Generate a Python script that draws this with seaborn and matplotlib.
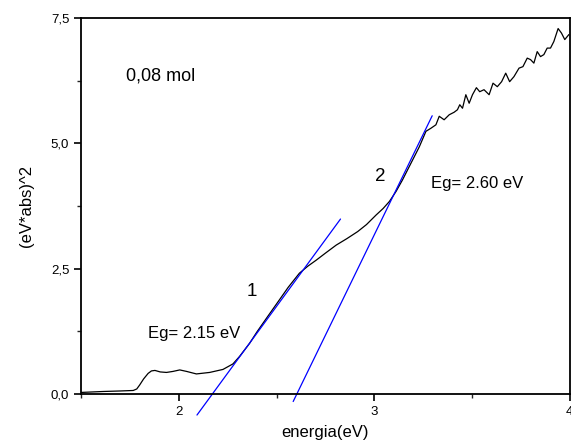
import numpy as np
import pandas as pd
import matplotlib
matplotlib.use("Agg")
import matplotlib.pyplot as plt
import seaborn as sns
from matplotlib.ticker import MultipleLocator, FuncFormatter

# Absorption curve (energy in eV, (eV*abs)^2)
energy = [1.495, 1.614, 1.70, 1.767, 1.785, 1.80, 1.82, 1.843, 1.86, 1.878, 1.905, 1.937,
          1.97, 2.005, 2.04, 2.09, 2.158, 2.226, 2.277, 2.311, 2.362, 2.40, 2.45,
          2.515, 2.56, 2.617, 2.66, 2.703, 2.75, 2.805, 2.86, 2.915, 2.96, 3.009,
          3.045, 3.077, 3.111, 3.144, 3.17, 3.20, 3.23, 3.264, 3.289, 3.315,
          3.332, 3.357, 3.383, 3.408, 3.425, 3.437, 3.451, 3.468, 3.485, 3.502,
          3.522, 3.539, 3.561, 3.587, 3.607, 3.629, 3.651, 3.672, 3.692, 3.714,
          3.74, 3.76, 3.782, 3.799, 3.816, 3.833, 3.85, 3.867, 3.884, 3.901,
          3.918, 3.94, 3.957, 3.974, 3.995]
absorb = [0.03, 0.05, 0.06, 0.07, 0.10, 0.18, 0.30, 0.41, 0.46, 0.47, 0.44, 0.43,
          0.45, 0.48, 0.45, 0.40, 0.43, 0.49, 0.60, 0.75, 1.01, 1.24, 1.52,
          1.88, 2.13, 2.41, 2.55, 2.67, 2.81, 2.97, 3.10, 3.24, 3.38, 3.57,
          3.70, 3.84, 4.04, 4.27, 4.47, 4.70, 4.93, 5.24, 5.30, 5.37,
          5.54, 5.47, 5.57, 5.62, 5.67, 5.77, 5.70, 5.97, 5.80, 5.97,
          6.11, 6.03, 6.07, 5.97, 6.20, 6.13, 6.23, 6.40, 6.23, 6.33,
          6.50, 6.53, 6.70, 6.67, 6.60, 6.83, 6.73, 6.77, 6.90, 6.90,
          7.03, 7.29, 7.20, 7.07, 7.17]

# Tangent lines (endpoints)
fit1_x = [2.093, 2.827]
fit1_y = [-0.42, 3.49]
fit2_x = [2.585, 3.296]
fit2_y = [-0.15, 5.55]

df = pd.DataFrame({"energia": energy, "val": absorb})

sns.set_theme(style="ticks")
plt.rcParams['font.family'] = ['Liberation Sans', 'DejaVu Sans']
plt.rcParams['text.color'] = 'black'
plt.rcParams['axes.labelcolor'] = 'black'

fig = plt.figure(figsize=(5.71, 4.47), dpi=100)
ax = fig.add_axes([0.1419, 0.1186, 0.998 - 0.1419, 0.9597 - 0.1186])

sns.lineplot(data=df, x="energia", y="val", color="black", linewidth=0.9, ax=ax)
sns.lineplot(x=fit1_x, y=fit1_y, color="#0000ff", linewidth=0.9, ax=ax, clip_on=False)
sns.lineplot(x=fit2_x, y=fit2_y, color="#0000ff", linewidth=0.9, ax=ax, clip_on=False)

ax.set_xlim(1.5, 4.0)
ax.set_ylim(0, 7.5)
ax.xaxis.set_major_locator(MultipleLocator(1))
ax.xaxis.set_minor_locator(MultipleLocator(0.5))
ax.yaxis.set_major_locator(MultipleLocator(2.5))
ax.yaxis.set_minor_locator(MultipleLocator(1.25))
ax.yaxis.set_major_formatter(FuncFormatter(lambda v, p: f"{v:.1f}".replace(".", ",")))
ax.xaxis.set_major_formatter(FuncFormatter(lambda v, p: f"{v:.0f}"))

for s in ax.spines.values():
    s.set_linewidth(1.3)
    s.set_color("black")
ax.tick_params(which="major", direction="out", length=5, width=1.2, labelsize=9.5,
               colors="black", labelcolor="black")
ax.tick_params(which="minor", direction="out", length=3, width=1.0)

ax.set_xlabel("energia(eV)", fontsize=12, labelpad=5)
ax.set_ylabel("(eV*abs)^2", fontsize=12, labelpad=12)

ax.text(1.73, 6.35, "0,08 mol", fontsize=13, va="center")
ax.text(1.84, 1.2, "Eg= 2.15 eV", fontsize=12, va="center")
ax.text(3.289, 4.2, "Eg= 2.60 eV", fontsize=12, va="center")
ax.text(2.376, 2.04, "1", fontsize=13.5, va="center", ha="center")
ax.text(3.029, 4.34, "2", fontsize=13.5, va="center", ha="center")

fig.savefig("out.png", dpi=100)
